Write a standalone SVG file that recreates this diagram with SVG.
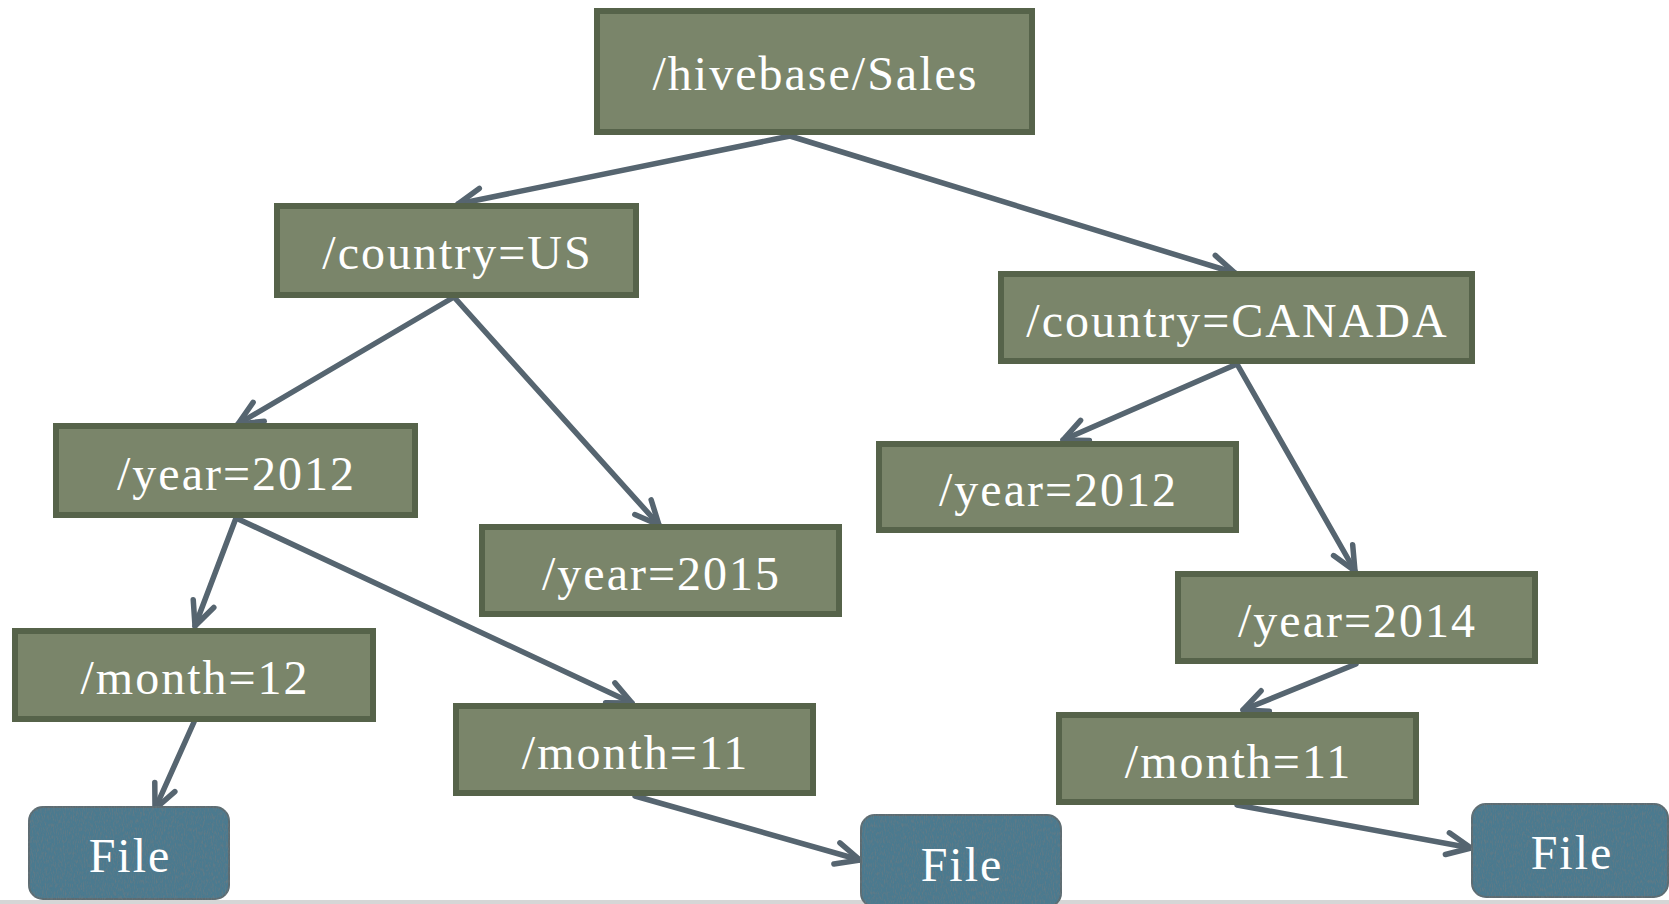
<svg xmlns="http://www.w3.org/2000/svg" width="1669" height="904" viewBox="0 0 1669 904">
  <defs>
    <style>
      .box { fill: #7a856a; stroke: #56634a; stroke-width: 6; }
      .file { fill: #4b7a8f; stroke: #5d6c72; stroke-width: 2; }
      .lbl { font-family: "Liberation Serif", "DejaVu Serif", serif; font-size: 48px; letter-spacing: 2px; fill: #ffffff; text-anchor: middle; }
      .conn { fill: none; stroke: #566570; stroke-width: 5.5; stroke-linecap: round; marker-end: url(#arr); }
    </style>
    <marker id="arr" markerUnits="userSpaceOnUse" viewBox="-30 -20 40 40" markerWidth="40" markerHeight="40" refX="0" refY="0" orient="auto">
      <path d="M-24,-11 L0,0 L-24,11" fill="none" stroke="#566570" stroke-width="5.5" stroke-linecap="round" stroke-linejoin="round"/>
    </marker>
    <filter id="tex" x="-5%" y="-5%" width="110%" height="115%">
      <feTurbulence type="fractalNoise" baseFrequency="0.9 0.25" numOctaves="2" seed="3" result="n"/>
      <feColorMatrix in="n" type="matrix" values="0 0 0 0 0.15  0 0 0 0 0.2  0 0 0 0 0.22  0 0 0 -1.6 0.9" result="dots"/>
      <feComposite in="dots" in2="SourceGraphic" operator="in" result="d2"/>
      <feMerge><feMergeNode in="SourceGraphic"/><feMergeNode in="d2"/></feMerge>
    </filter>
  </defs>
  <rect x="0" y="0" width="1669" height="904" fill="#ffffff"/>
  <rect x="0" y="900" width="1669" height="4" fill="#d6d6d6"/>

  <g id="connectors">
    <line class="conn" x1="790" y1="136" x2="458" y2="204"/>
    <line class="conn" x1="790" y1="136" x2="1235" y2="273"/>
    <line class="conn" x1="454" y1="297" x2="238" y2="424"/>
    <line class="conn" x1="454" y1="297" x2="659" y2="525"/>
    <line class="conn" x1="1237" y1="364" x2="1063" y2="440"/>
    <line class="conn" x1="1237" y1="364" x2="1355" y2="571"/>
    <line class="conn" x1="236" y1="518" x2="195" y2="626"/>
    <line class="conn" x1="236" y1="518" x2="632" y2="703"/>
    <line class="conn" x1="1356" y1="664" x2="1243" y2="710"/>
    <line class="conn" x1="194" y1="722" x2="155" y2="809"/>
    <line class="conn" x1="635" y1="796" x2="860" y2="860"/>
    <line class="conn" x1="1237" y1="805" x2="1471" y2="848"/>
  </g>

  <g id="n-root"><rect class="box" x="597" y="11" width="435" height="121"/><text class="lbl" x="815.5" y="90">/hivebase/Sales</text></g>
  <g id="n-us"><rect class="box" x="277" y="206" width="359" height="89"/><text class="lbl" x="457.5" y="269">/country=US</text></g>
  <g id="n-canada"><rect class="box" x="1001" y="274" width="471" height="87"/><text class="lbl" x="1237.5" y="337">/country=CANADA</text></g>
  <g id="n-us-2012"><rect class="box" x="56" y="426" width="359" height="89"/><text class="lbl" x="236.5" y="490">/year=2012</text></g>
  <g id="n-us-2015"><rect class="box" x="482" y="527" width="357" height="87"/><text class="lbl" x="661.5" y="590">/year=2015</text></g>
  <g id="n-ca-2012"><rect class="box" x="879" y="444" width="357" height="86"/><text class="lbl" x="1058.5" y="506">/year=2012</text></g>
  <g id="n-ca-2014"><rect class="box" x="1178" y="574" width="357" height="87"/><text class="lbl" x="1357.5" y="637">/year=2014</text></g>
  <g id="n-us-m12"><rect class="box" x="15" y="631" width="358" height="88"/><text class="lbl" x="195" y="694">/month=12</text></g>
  <g id="n-us-m11"><rect class="box" x="456" y="706" width="357" height="87"/><text class="lbl" x="635.5" y="769">/month=11</text></g>
  <g id="n-ca-m11"><rect class="box" x="1059" y="715" width="357" height="87"/><text class="lbl" x="1238.5" y="778">/month=11</text></g>

  <g id="f-left"><rect class="file" filter="url(#tex)" x="29" y="807" width="200" height="92" rx="14"/><text class="lbl" x="130" y="872">File</text></g>
  <g id="f-mid"><rect class="file" filter="url(#tex)" x="861" y="815" width="200" height="92" rx="14"/><text class="lbl" x="962" y="881">File</text></g>
  <g id="f-right"><rect class="file" filter="url(#tex)" x="1472" y="804" width="196" height="93" rx="14"/><text class="lbl" x="1572" y="869">File</text></g>
</svg>
